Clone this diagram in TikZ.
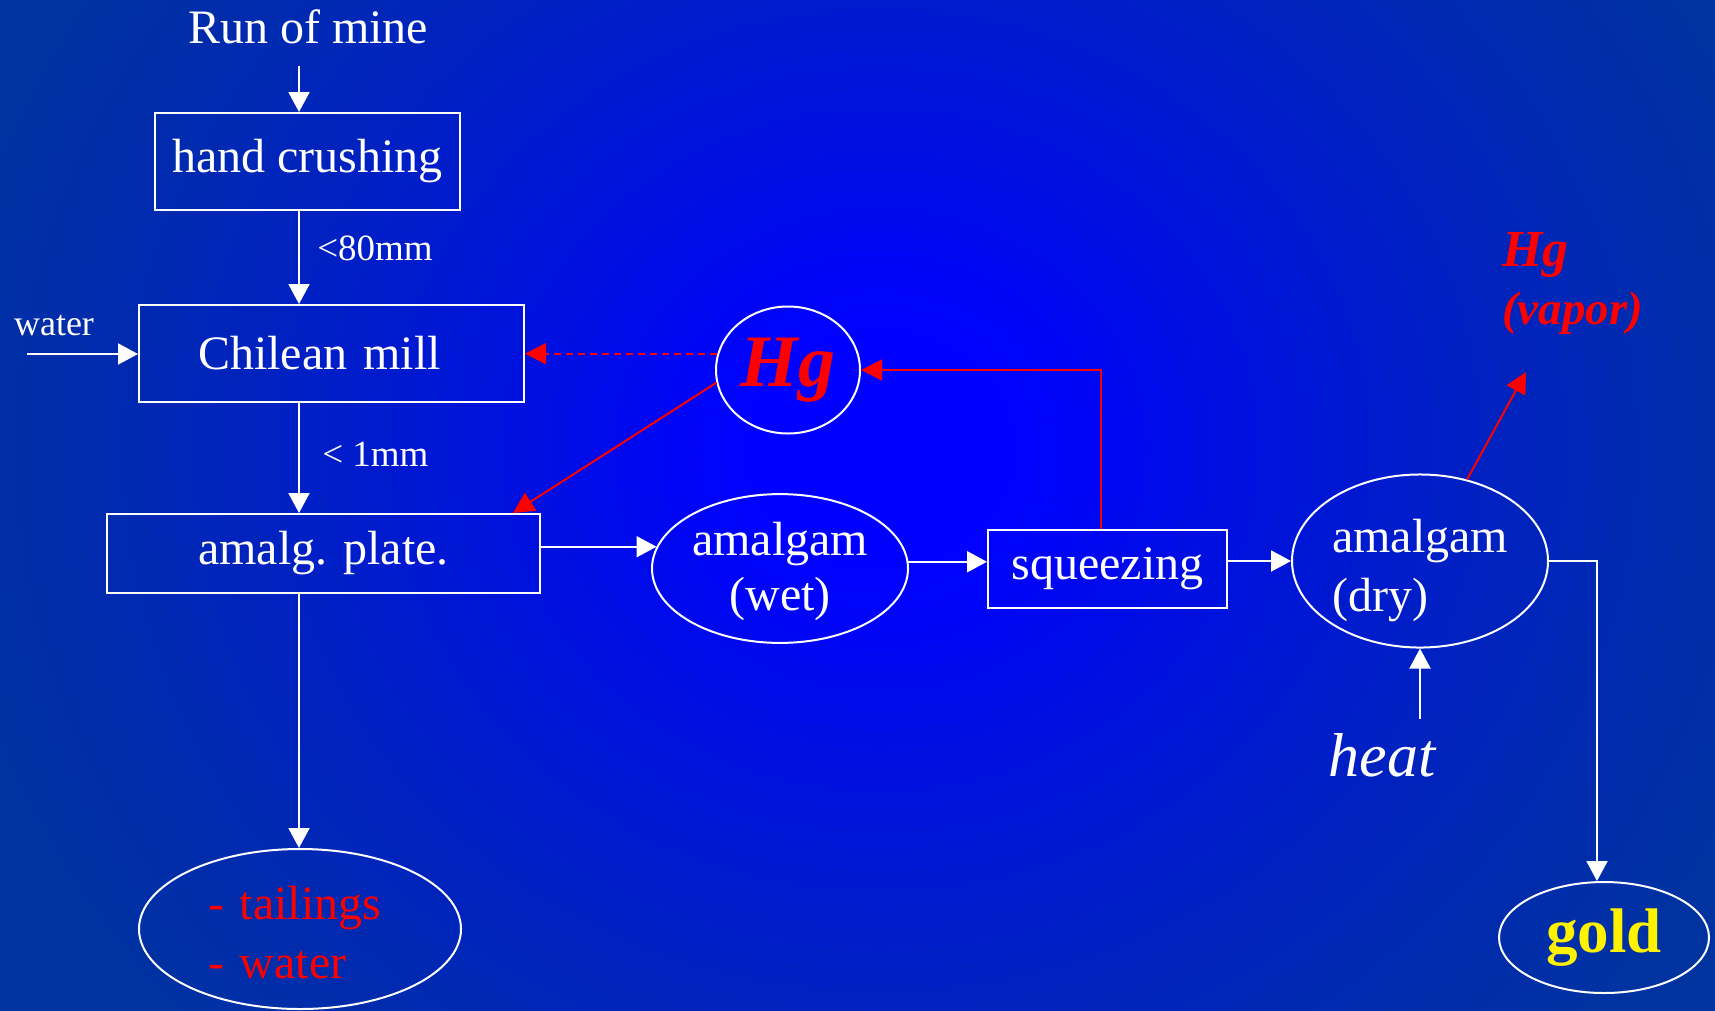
\documentclass[tikz,border=0pt]{standalone}
\usepackage{fontspec}
\setmainfont{Liberation Serif}
\usetikzlibrary{arrows.meta, shapes.geometric}

\definecolor{bgout}{RGB}{0,51,160}
\definecolor{bgin}{RGB}{0,0,255}

\newcommand{\fsz}[2]{\fontsize{#1}{#2}\selectfont}

\begin{document}
\begin{tikzpicture}[x=1pt, y=-1pt,
    box/.style={draw=white, line width=2pt, inner sep=0pt, text=white, font=\fsz{48}{58}},
    oval/.style={ellipse, draw=white, line width=2pt, inner sep=0pt, text=white, font=\fsz{48}{57}, align=left},
    lbl/.style={right, text=white, font=\fsz{37}{42}},
    flow/.style={draw=white, line width=2pt, -{Triangle[width=21pt,length=20pt]}},
    hgflow/.style={draw=red, line width=2pt, -{Triangle[width=21pt,length=21pt]}}]

    \useasboundingbox (0,0) rectangle (1715,1010);

    % background glow
    \fill[bgout] (-5,-5) rectangle (1720,1015);
    \begin{scope}
        \clip (-5,-5) rectangle (1720,1015);
        \foreach \i in {0,...,44}{
            \pgfmathsetmacro\s{1-\i/45}
            \pgfmathtruncatemacro\p{min(100,100*((1-\s)/0.85)^1.3)}
            \pgfmathsetmacro\rx{1000*\s}
            \pgfmathsetmacro\ry{900*\s}
            \fill[bgin!\p!bgout] (880,450) ellipse [x radius=\rx pt, y radius=\ry pt];
        }
    \end{scope}

    \coordinate (col) at (299,0);
    \coordinate (win) at (27,354);
    \coordinate (vap) at (1526,372);

    \node[text=white, font=\fsz{48}{58}, anchor=base, inner sep=22pt] (rom) at (308,43) {Run of mine};
    \node[box, minimum width=305pt, minimum height=97pt] (hc) at (307.5,161.5) {hand crushing};
    \node[box, inner xsep=59pt, text width=267pt, align=left, minimum height=97pt] (cm) at (331.5,353.5) {Chilean mill};
    \node[box, minimum width=433pt, minimum height=79pt] (ap) at (323.5,553.5) {amalg. plate.};
    \node[box, minimum width=239pt, minimum height=78pt] (sq) at (1107.5,569) {squeezing};
    \node[text=white, font=\fsz{36}{40}] (water) at (54,326) {water};

    \node[oval, minimum width=144pt, minimum height=127pt, text=red, font=\fsz{74}{80}\bfseries\itshape] (hg) at (788,370) {Hg};
    \node[oval, minimum width=256pt, minimum height=143pt, align=center, font=\fsz{48}{55}] (wet) at (780,568.5) {\rule{0pt}{40pt}amalgam\\(wet)};
    \node[oval, minimum width=256pt, minimum height=158pt, font=\fsz{48}{59}] (dry) at (1420,561) {\rule{0pt}{53pt}amalgam\\(dry)};
    \node[oval, minimum width=322pt, minimum height=160pt, text width=184pt, text=red, font=\fsz{48}{59}] (tail) at (300,929) {\rule{0pt}{40pt}- tailings\\- water};
    \node[oval, minimum width=210pt, minimum height=111pt, text=yellow, font=\fsz{63}{70}\bfseries] (gold) at (1604,937.5) {gold};

    \node[text=white, font=\fsz{62}{70}\itshape, anchor=base, inner sep=14pt] (heat) at (1382,776) {heat};
    \node[text=red, font=\fsz{52}{60}\bfseries\itshape, anchor=base west, inner sep=0pt] (hgv) at (1502,266) {Hg};
    \node[text=red, font=\fsz{47}{52}\bfseries\itshape, anchor=base west, inner sep=0pt] (vapor) at (1502,324) {(vapor)};

    % main line
    \draw[flow] (rom.south -| col) -- (hc.north -| col);
    \draw[flow] (hc.south -| col) -- node[lbl, pos=0.4, xshift=14pt]{<80mm} (cm.north -| col);
    \draw[flow] (cm.south -| col) -- node[lbl, pos=0.47, xshift=19pt]{< 1mm} (ap.north -| col);
    \draw[flow] (ap.south -| col) -- (tail.north -| col);
    \draw[flow] (win) -- (win -| cm.west);

    \draw[flow] (ap.east |- wet.170) -- (wet.170);
    \draw[flow] (wet.3) -- (wet.3 -| sq.west);
    \draw[flow] (dry.west -| sq.east) -- (dry.west);
    \draw[flow] (heat.north -| dry.south) -- (dry.south);
    \draw[flow] (dry.east) -| ([xshift=-7pt]gold.north);

    % mercury
    \draw[hgflow, dash pattern=on 7pt off 5pt] (hg.167) -- (hg.167 -| cm.east);
    \draw[hgflow] (hg.190) -- ([xshift=-28pt]ap.north east);
    \draw[hgflow] ([xshift=-7pt]sq.north) |- (hg.east);
    \draw[hgflow] (dry.60) -- (vap);
\end{tikzpicture}
\end{document}
